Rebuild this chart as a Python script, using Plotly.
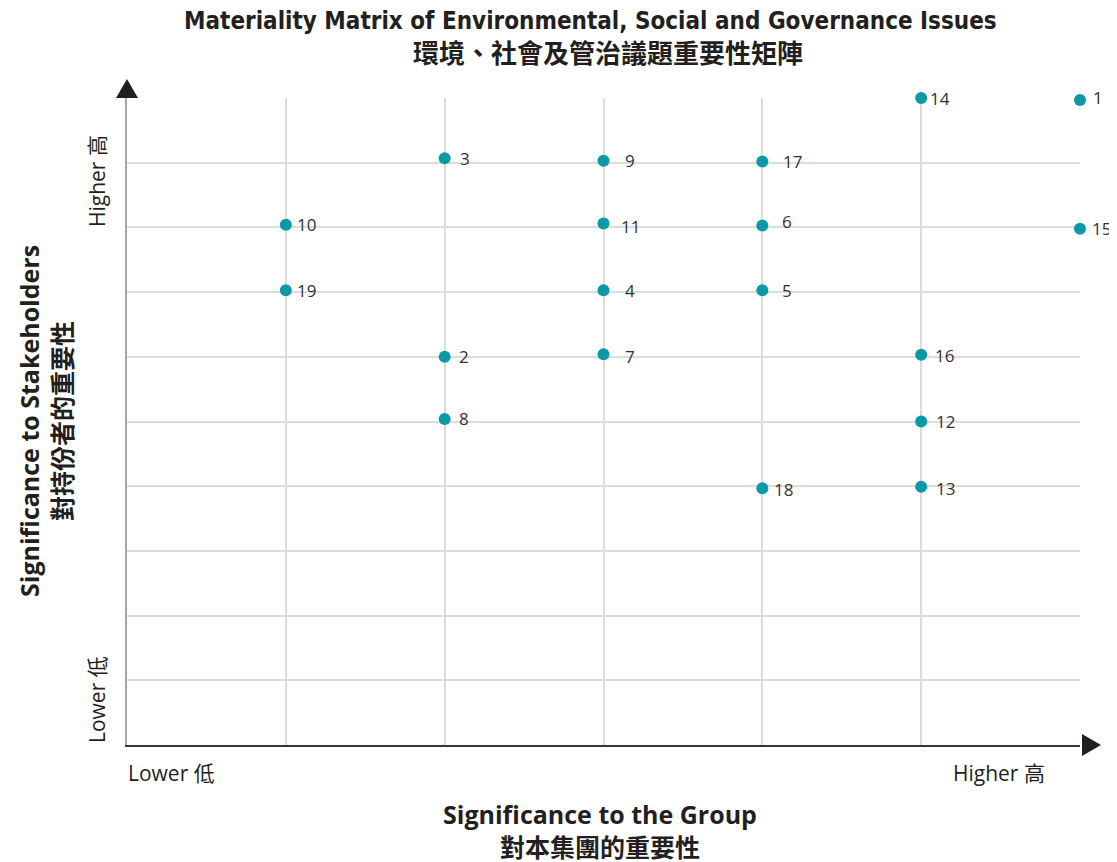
import plotly.graph_objects as go

# Data
issue_ids = ["1", "2", "3", "4", "5", "6", "7", "8", "9", "10",
             "11", "12", "13", "14", "15", "16", "17", "18", "19"]
group_sig = [6, 2, 2, 3, 4, 4, 3, 2, 3, 1,
             3, 5, 5, 5, 6, 5, 4, 4, 1]
stakeholder_sig = [9.97, 6.0, 9.07, 7.03, 7.03, 8.03, 6.04, 5.04, 9.03, 8.04,
                   8.06, 5.0, 3.99, 10.0, 7.98, 6.03, 9.02, 3.97, 7.03]

x_tick_labels = ["Lower 低", "Higher 高"]
y_tick_labels = ["Lower 低", "Higher 高"]

title_en = "Materiality Matrix of Environmental, Social and Governance Issues"
title_zh = "環境、社會及管治議題重要性矩陣"
xtitle_en = "Significance to the Group"
xtitle_zh = "對本集團的重要性"
ytitle_en = "Significance to Stakeholders"
ytitle_zh = "對持份者的重要性"

# label placement (style only, pixels)
label_dx = [12, 13, 14, 20, 19, 19, 20, 13, 20, 10,
            16, 14, 14, 8, 11, 13, 20, 11, 10]
label_dy = [2, 0, 0, 0, 0, 4, -2, 0, 0, 0,
            -3, 0, -2, 0, 0, -1, 0, -1, 0]

TEAL = "#0a9aa7"
DARK = "#231f20"
GRID = "#dcdcdc"
LAT = "Open Sans, Noto Sans CJK TC, sans-serif"
COND = "DejaVu Sans Condensed, Open Sans, sans-serif"
CJK = "Noto Sans CJK TC, Open Sans, sans-serif"

# page is offset by the 8px body margin
W, H = 1109, 854
ML, MR, MT, MB = 119, 37, 90, 117
PW, PH = W - ML - MR, H - MT - MB


def px(x):
    return (x - 127) / PW


def py(y):
    return (745 - y) / PH


fig = go.Figure()
fig.add_trace(go.Scatter(
    x=group_sig, y=stakeholder_sig,
    mode="markers",
    marker=dict(color=TEAL, size=12),
    cliponaxis=False, hoverinfo="skip", showlegend=False,
))

fig.update_xaxes(range=[0, 6], tickvals=list(range(0, 7)), showticklabels=False,
                 showgrid=True, gridcolor=GRID, gridwidth=1.5, zeroline=False,
                 showline=True, linecolor="#3b3738", linewidth=2, ticks="")
fig.update_yaxes(range=[0, 10], tickvals=list(range(0, 11)), showticklabels=False,
                 showgrid=True, gridcolor=GRID, gridwidth=1.5, zeroline=False,
                 showline=True, linecolor="#a6a6a6", linewidth=2, ticks="")

shapes = [
    dict(type="path", xref="paper", yref="paper", xsizemode="pixel", ysizemode="pixel",
         xanchor=0, yanchor=1, path="M-11,0 L11,0 L0,19 Z",
         fillcolor=DARK, line=dict(width=0), layer="above"),
    dict(type="path", xref="paper", yref="paper", xsizemode="pixel", ysizemode="pixel",
         xanchor=1, yanchor=0, path="M2,-11 L2,11 L21,0 Z",
         fillcolor=DARK, line=dict(width=0), layer="above"),
]

ann = []
for t, xv, yv, dx, dy in zip(issue_ids, group_sig, stakeholder_sig, label_dx, label_dy):
    ann.append(dict(text=t, x=xv, y=yv, xref="x", yref="y", showarrow=False,
                    xanchor="left", yanchor="middle", xshift=dx - 1, yshift=dy,
                    font=dict(family=LAT, size=17, color="#333132")))

ann.append(dict(text="<b>" + title_en + "</b>", x=px(590), y=py(21), xref="paper", yref="paper",
                showarrow=False, font=dict(family=COND, size=24, color=DARK), xanchor="center", yanchor="middle"))
ann.append(dict(text="<b>" + title_zh + "</b>", x=px(608), y=py(52), xref="paper", yref="paper",
                showarrow=False, font=dict(family=CJK, size=26, color=DARK), xanchor="center", yanchor="middle"))
ann.append(dict(text="<b>" + xtitle_en + "</b><br><span style='font-family:Noto Sans CJK TC'><b>"
                + xtitle_zh + "</b></span>",
                x=px(600), y=py(830), xref="paper", yref="paper",
                showarrow=False, font=dict(family=LAT, size=25, color=DARK), xanchor="center", yanchor="middle"))
ann.append(dict(text="<b>" + ytitle_en + "</b><br><span style='font-family:Noto Sans CJK TC'><b>"
                + ytitle_zh + "</b></span>",
                x=px(45), y=py(421), xref="paper", yref="paper",
                showarrow=False, textangle=-90, font=dict(family=LAT, size=25, color=DARK),
                xanchor="center", yanchor="middle"))
# axis end labels
ann.append(dict(text=x_tick_labels[0], x=px(126), y=py(773), xref="paper", yref="paper",
                showarrow=False, font=dict(family=LAT, size=21, color=DARK), xanchor="left", yanchor="middle"))
ann.append(dict(text=x_tick_labels[1], x=px(1047), y=py(773), xref="paper", yref="paper",
                showarrow=False, font=dict(family=LAT, size=21, color=DARK), xanchor="right", yanchor="middle"))
ann.append(dict(text=y_tick_labels[0], x=px(97), y=py(700), xref="paper", yref="paper",
                showarrow=False, textangle=-90, font=dict(family=LAT, size=21, color=DARK),
                xanchor="center", yanchor="middle"))
ann.append(dict(text=y_tick_labels[1], x=px(97), y=py(181), xref="paper", yref="paper",
                showarrow=False, textangle=-90, font=dict(family=LAT, size=21, color=DARK),
                xanchor="center", yanchor="middle"))

fig.update_layout(
    width=W, height=H, margin=dict(l=ML, r=MR, t=MT, b=MB),
    paper_bgcolor="white", plot_bgcolor="white",
    shapes=shapes, annotations=ann,
)

fig.write_html("out.html")
